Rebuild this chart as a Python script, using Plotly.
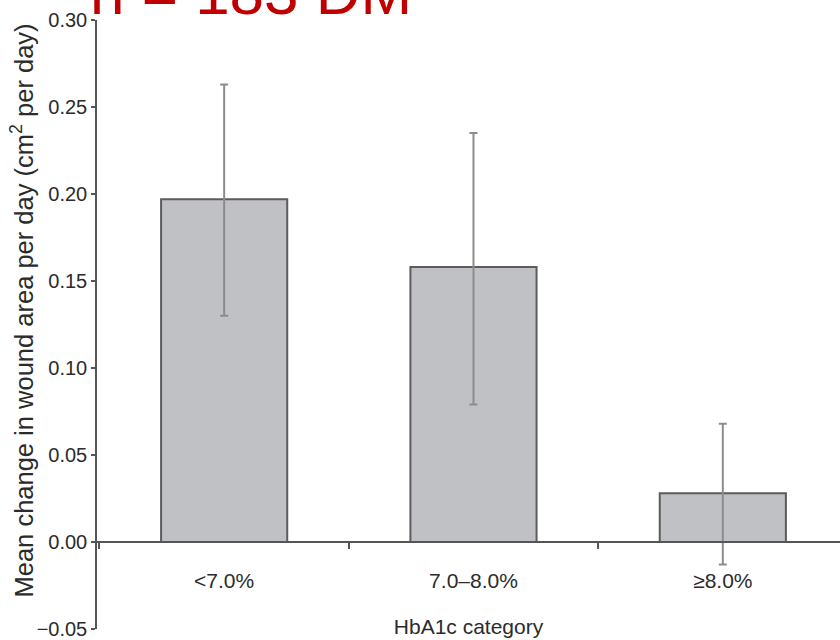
import plotly.graph_objects as go

# HbA1c categories and mean wound-area change per day
categories = ["<7.0%", "7.0–8.0%", "≥8.0%"]
mean_change = [0.197, 0.158, 0.028]
ci_upper = [0.263, 0.235, 0.068]
ci_lower = [0.130, 0.079, -0.013]

y_ticks = [-0.05, 0.00, 0.05, 0.10, 0.15, 0.20, 0.25, 0.30]

err_plus = [u - m for u, m in zip(ci_upper, mean_change)]
err_minus = [m - l for m, l in zip(mean_change, ci_lower)]

FONT = "Liberation Sans, Arial, Helvetica, sans-serif"
AXIS_COLOR = "#555555"
TEXT_COLOR = "#2b2b2b"
Y_MIN, Y_MAX = -0.05, 0.30

fig = go.Figure(
    go.Bar(
        x=categories,
        y=mean_change,
        width=0.506,
        marker=dict(color="#c0c1c5", line=dict(color="#5c5c5c", width=2)),
        error_y=dict(
            type="data",
            symmetric=False,
            array=err_plus,
            arrayminus=err_minus,
            color="#8c8c8c",
            thickness=2,
            width=4,
        ),
        showlegend=False,
    )
)

fig.update_layout(
    width=840,
    height=640,
    margin=dict(l=97, r=0, t=20, b=9),
    paper_bgcolor="white",
    plot_bgcolor="white",
    font=dict(family=FONT, color=TEXT_COLOR),
    xaxis=dict(
        type="category",
        range=[-0.51, 2.47],
        anchor="free",
        position=(0 - Y_MIN) / (Y_MAX - Y_MIN),
        showline=True,
        linecolor=AXIS_COLOR,
        linewidth=1.5,
        ticks="outside",
        tickson="boundaries",
        ticklen=6,
        tickcolor=AXIS_COLOR,
        tickwidth=1.5,
        tickfont=dict(size=21, color=TEXT_COLOR),
        ticklabelstandoff=20,
        showgrid=False,
        title=dict(text="HbA1c category", font=dict(size=21, color=TEXT_COLOR), standoff=27),
    ),
    yaxis=dict(
        range=[Y_MIN, Y_MAX],
        tickvals=y_ticks,
        tickformat=".2f",
        showline=True,
        linecolor=AXIS_COLOR,
        linewidth=1.5,
        ticks="outside",
        ticklen=4,
        tickcolor=AXIS_COLOR,
        tickwidth=1.5,
        tickfont=dict(size=20, color=TEXT_COLOR),
        ticklabeloverflow="allow",
        showgrid=False,
        zeroline=False,
    ),
    annotations=[
        dict(
            text="Mean change in wound area per day (cm<sup>2</sup> per day)",
            textangle=-90,
            xref="paper",
            yref="paper",
            x=(23 - 97) / 743,
            y=0.523,
            xanchor="center",
            yanchor="middle",
            showarrow=False,
            font=dict(size=25.5, color=TEXT_COLOR, family=FONT),
        ),
        dict(
            text="n = 183 DM",
            xref="paper",
            yref="paper",
            x=(88 - 97) / 743,
            y=1,
            xanchor="left",
            yanchor="bottom",
            yshift=-9,
            showarrow=False,
            font=dict(size=62, color="#c00000", family=FONT),
        ),
    ],
)

fig.write_html("out.html")
